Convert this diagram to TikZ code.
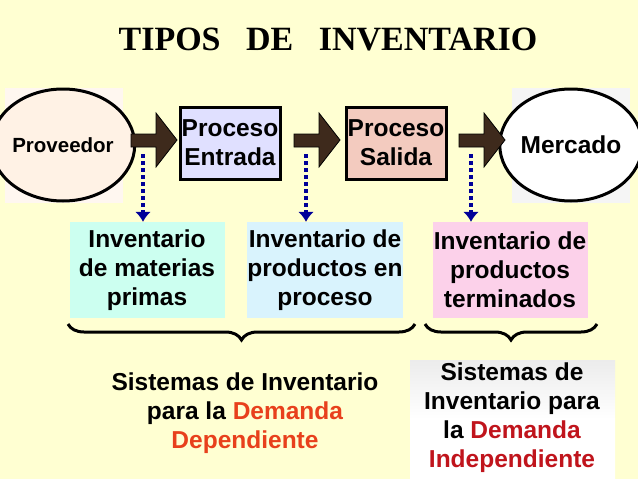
\documentclass[tikz,border=0pt]{standalone}
\usepackage{fontspec}
\setmainfont{Liberation Sans}
\newfontfamily\serifb{Liberation Serif}
\usetikzlibrary{arrows.meta,shapes.geometric,decorations.pathreplacing}
\definecolor{bg}{HTML}{FFFFD2}
\definecolor{brownarr}{HTML}{3E2A1C}
\definecolor{redt}{HTML}{E8401C}
\definecolor{darkred}{HTML}{C0141C}
\tikzset{
 x=1pt,y=-1pt,
 txt/.style={font=\bfseries\fontsize{24.5}{29}\selectfont,align=center},
 proc/.style={draw=black,line width=3pt,minimum width=100pt,minimum height=72pt,txt,inner sep=0pt},
 circ/.style={draw=black,line width=3pt,ellipse,minimum width=118pt,minimum height=112pt,txt,inner sep=0pt},
 blk/.style={fill=brownarr,draw=black,line width=0.8pt},
 dotarr/.style={draw=blue!60!black,line width=4pt,dash pattern=on 4pt off 3pt,-{Latex[length=10pt,width=16pt]}},
 inv/.style={minimum width=155pt,minimum height=96pt,txt,inner sep=0pt},
 brace/.style={draw=black,line width=3pt,decorate,decoration={brace,amplitude=16pt,mirror}}
}
\newcommand\blockarrow[2]{\draw[blk] (#1,134) -- ++(25,0) -- ++(0,-21) -- ++(21,27) -- ++(-21,27) -- ++(0,-20) -- ++(-25,0) -- cycle; \coordinate (#2) at (#1+12,154);}
\begin{document}
\begin{tikzpicture}
\fill[bg] (0,0) rectangle (638,479);
\useasboundingbox (0,0) rectangle (638,479);
\node[font=\serifb\bfseries\fontsize{34}{36}\selectfont] (title) at (328,40) {TIPOS\ \ \ DE\ \ \ INVENTARIO};
\fill[orange!6] (5,88) rectangle (123,203);
\fill[gray!8] (512,88) rectangle (630,203);
\node[circ,fill=orange!10,font=\bfseries\fontsize{20.5}{24}\selectfont] (prov) at (63,145) {Proveedor};
\node[proc,fill=blue!12] (pe) at (230,143) {Proceso\\Entrada};
\node[proc,fill=red!35!brown!30] (ps) at (396,143) {Proceso\\Salida};
\node[circ,fill=white] (mer) at (571,145) {Mercado};
\blockarrow{131}{a1}
\blockarrow{294}{a2}
\blockarrow{459}{a3}
\node[inv,fill=green!30!cyan!20] (i1) at (147,270) {Inventario\\de materias\\primas};
\node[inv,fill=cyan!15] (i2) at (325,270) {Inventario de\\productos en\\proceso};
\node[inv,fill=magenta!18] (i3) at (510,270) {Inventario de\\productos\\terminados};
\draw[dotarr] (a1) -- (a1 |- i1.north);
\draw[dotarr] (a2) -- (a2 |- i2.north);
\draw[dotarr] (a3) -- (a3 |- i3.north);
\coordinate (b1) at (68,324); \coordinate (b2) at (415,324);
\coordinate (b3) at (425,324); \coordinate (b4) at (597,324);
\draw[brace] (b1) -- (b2);
\draw[brace] (b3) -- (b4);
\node[txt,text=black] (s1) at (245,413) {Sistemas de Inventario\\para la \textcolor{redt}{Demanda}\\\textcolor{redt}{Dependiente}};
\shade[top color=gray!15,bottom color=white,middle color=white] (410,360) rectangle (615,479);
\node[txt] (s2) at (512,418) {Sistemas de\\Inventario para\\la \textcolor{darkred}{Demanda}\\\textcolor{darkred}{Independiente}};
\end{tikzpicture}
\end{document}
